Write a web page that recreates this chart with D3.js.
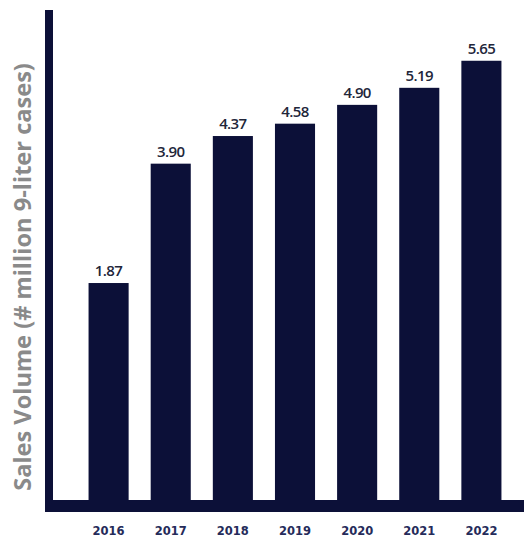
<!DOCTYPE html>
<html>
<head>
<meta charset="utf-8">
<script src="https://cdn.jsdelivr.net/npm/d3@7"></script>
<style>
  body { margin: 0; background: #fff; }
</style>
</head>
<body>
<script>
// Size
var w = 524;
var h = 538;

// Data
var years = ["2016", "2017", "2018", "2019", "2020", "2021", "2022"];
var volumes = [1.87, 3.90, 4.37, 4.58, 4.90, 5.19, 5.65];
var valueLabels = ["1.87", "3.90", "4.37", "4.58", "4.90", "5.19", "5.65"];

var baseY = 500;   // bottom of bars
var axisX = 49;    // centre of the vertical axis line

var svg = d3.select("body")
            .append("svg")
            .attr("width", w)
            .attr("height", h);

// Scales (the original picture is not drawn from zero, so fit its bar heights)
var x = d3.scaleBand()
          .domain(years)
          .range([55, 535])
          .paddingInner(0.355)
          .paddingOuter(0.54);

var y = d3.scaleLinear()
          .domain([-1.82, 6])
          .range([baseY, baseY - 7.82 * 58.8]);

// Bars
svg.selectAll("rect.bar")
   .data(volumes)
   .enter()
   .append("rect")
   .attr("class", "bar")
   .attr("x", function(d, i) { return x(years[i]); })
   .attr("y", function(d) { return y(d); })
   .attr("width", x.bandwidth())
   .attr("height", function(d) { return baseY - y(d); })
   .attr("fill", "#0c1038");

// Value labels
svg.selectAll("text.val")
   .data(volumes)
   .enter()
   .append("text")
   .attr("class", "val")
   .text(function(d, i) { return valueLabels[i]; })
   .attr("text-anchor", "middle")
   .attr("x", function(d, i) { return x(years[i]) + x.bandwidth() / 2; })
   .attr("y", function(d) { return y(d) - 7; })
   .attr("font-family", "'Open Sans', sans-serif")
   .attr("font-weight", 600)
   .attr("font-size", "15px")
   .attr("letter-spacing", "-0.6px")
   .attr("fill", "#22263a");

// Axis lines
svg.append("line")
   .attr("x1", axisX).attr("x2", axisX)
   .attr("y1", 10).attr("y2", baseY + 12)
   .attr("stroke", "#0c1038")
   .attr("stroke-width", 8);

svg.append("line")
   .attr("x1", axisX - 4).attr("x2", w)
   .attr("y1", baseY + 6).attr("y2", baseY + 6)
   .attr("stroke", "#0c1038")
   .attr("stroke-width", 12);

// Year labels
var xAxis = svg.append("g")
               .attr("transform", "translate(0," + (baseY + 35) + ")")
               .call(d3.axisBottom(x).tickSize(0).tickPadding(0));
xAxis.select(".domain").remove();
xAxis.selectAll("text")
     .attr("dy", 0)
     .attr("font-family", "'DejaVu Sans', sans-serif")
     .attr("font-weight", "bold")
     .attr("font-size", "11.5px")
     .attr("fill", "#252b5a");

// Y axis title, sized to span the same height as the original
var title = svg.append("text")
   .text("Sales Volume (# million 9-liter cases)")
   .attr("transform", "translate(31,277) rotate(-90)")
   .attr("text-anchor", "middle")
   .attr("font-family", "'Open Sans', sans-serif")
   .attr("font-weight", "bold")
   .attr("font-size", "17px")
   .attr("fill", "#8a8a8a");
var len = title.node().getComputedTextLength();
title.attr("font-size", (17 * 428 / len) + "px");
</script>
</body>
</html>
